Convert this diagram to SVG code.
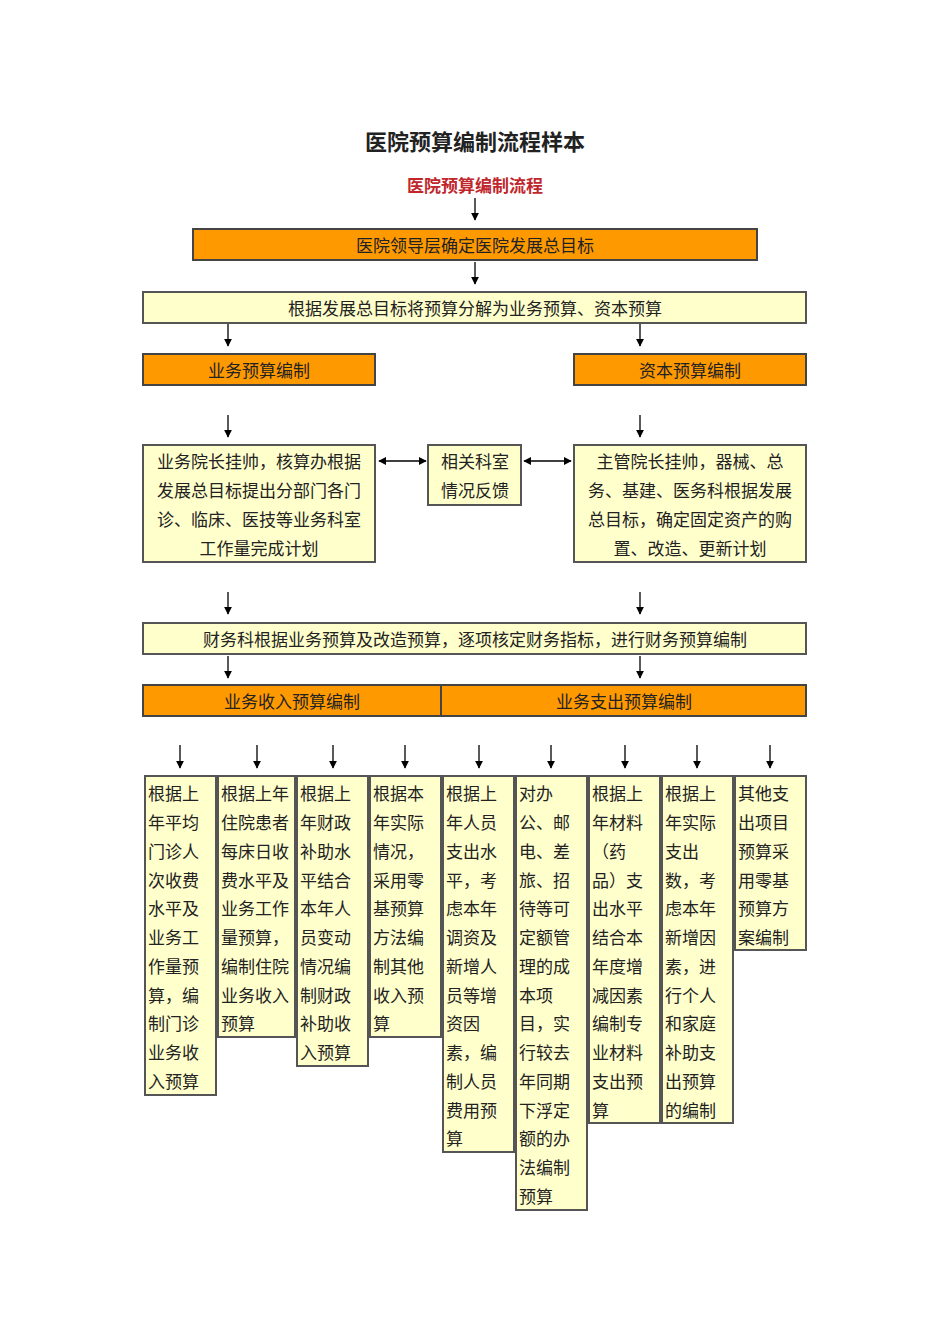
<svg xmlns="http://www.w3.org/2000/svg" width="950" height="1344" viewBox="0 0 950 1344">
<style>
text{font-family:"Noto Sans CJK SC","Liberation Serif",serif;font-size:17px;fill:#222}
.o{fill:#FF9900;stroke:#444;stroke-width:2}
.y{fill:#FFFFCC;stroke:#555;stroke-width:2}
.c{text-anchor:middle}
.a{stroke:#000;stroke-width:1.3;fill:none}
</style>
<defs><marker id="h" viewBox="0 0 10 10" refX="9" refY="5" markerWidth="6" markerHeight="6" orient="auto-start-reverse"><path d="M0,0L10,5L0,10z" fill="#000"/></marker></defs>
<rect width="950" height="1344" fill="#fff"/>
<text x="475" y="150" class="c" style="font-size:22px;font-weight:bold">医院预算编制流程样本</text>
<text x="475" y="192" class="c" style="fill:#C0272D;font-weight:bold">医院预算编制流程</text>
<g id="n1"><rect class="o" x="193" y="229" width="564" height="31"/><text x="475" y="252" class="c">医院领导层确定医院发展总目标</text></g>
<g id="n2"><rect class="y" x="143" y="292" width="663" height="31"/><text x="475" y="315" class="c">根据发展总目标将预算分解为业务预算、资本预算</text></g>
<g id="n3"><rect class="o" x="143" y="354" width="232" height="31"/><text x="259" y="377" class="c">业务预算编制</text></g>
<g id="n4"><rect class="o" x="574" y="354" width="232" height="31"/><text x="690" y="377" class="c">资本预算编制</text></g>
<g id="n5"><rect class="y" x="143" y="445" width="232" height="117"/><text class="c"><tspan x="259" y="468">业务院长挂帅，核算办根据</tspan><tspan x="259" y="497">发展总目标提出分部门各门</tspan><tspan x="259" y="526">诊、临床、医技等业务科室</tspan><tspan x="259" y="555">工作量完成计划</tspan></text></g>
<g id="n6"><rect class="y" x="428" y="445" width="93" height="60"/><text class="c"><tspan x="475" y="468">相关科室</tspan><tspan x="475" y="497">情况反馈</tspan></text></g>
<g id="n7"><rect class="y" x="574" y="445" width="232" height="117"/><text class="c"><tspan x="690" y="468">主管院长挂帅，器械、总</tspan><tspan x="690" y="497">务、基建、医务科根据发展</tspan><tspan x="690" y="526">总目标，确定固定资产的购</tspan><tspan x="690" y="555">置、改造、更新计划</tspan></text></g>
<g id="n8"><rect class="y" x="143" y="623" width="663" height="31"/><text x="475" y="646" class="c">财务科根据业务预算及改造预算，逐项核定财务指标，进行财务预算编制</text></g>
<g id="n9"><rect class="o" x="143" y="685" width="298" height="31"/><text x="292" y="708" class="c">业务收入预算编制</text></g>
<g id="n10"><rect class="o" x="441" y="685" width="365" height="31"/><text x="624" y="708" class="c">业务支出预算编制</text></g>
<g id="c1"><rect class="y" x="145" y="776" width="71" height="319"/><text><tspan x="148" y="800">根据上</tspan><tspan x="148" y="829">年平均</tspan><tspan x="148" y="858">门诊人</tspan><tspan x="148" y="887">次收费</tspan><tspan x="148" y="915">水平及</tspan><tspan x="148" y="944">业务工</tspan><tspan x="148" y="973">作量预</tspan><tspan x="148" y="1002">算，编</tspan><tspan x="148" y="1030">制门诊</tspan><tspan x="148" y="1059">业务收</tspan><tspan x="148" y="1088">入预算</tspan></text></g>
<g id="c2"><rect class="y" x="218" y="776" width="77" height="261"/><text><tspan x="221" y="800">根据上年</tspan><tspan x="221" y="829">住院患者</tspan><tspan x="221" y="858">每床日收</tspan><tspan x="221" y="887">费水平及</tspan><tspan x="221" y="915">业务工作</tspan><tspan x="221" y="944">量预算，</tspan><tspan x="221" y="973">编制住院</tspan><tspan x="221" y="1002">业务收入</tspan><tspan x="221" y="1030">预算</tspan></text></g>
<g id="c3"><rect class="y" x="297" y="776" width="71" height="290"/><text><tspan x="300" y="800">根据上</tspan><tspan x="300" y="829">年财政</tspan><tspan x="300" y="858">补助水</tspan><tspan x="300" y="887">平结合</tspan><tspan x="300" y="915">本年人</tspan><tspan x="300" y="944">员变动</tspan><tspan x="300" y="973">情况编</tspan><tspan x="300" y="1002">制财政</tspan><tspan x="300" y="1030">补助收</tspan><tspan x="300" y="1059">入预算</tspan></text></g>
<g id="c4"><rect class="y" x="370" y="776" width="71" height="261"/><text><tspan x="373" y="800">根据本</tspan><tspan x="373" y="829">年实际</tspan><tspan x="373" y="858">情况，</tspan><tspan x="373" y="887">采用零</tspan><tspan x="373" y="915">基预算</tspan><tspan x="373" y="944">方法编</tspan><tspan x="373" y="973">制其他</tspan><tspan x="373" y="1002">收入预</tspan><tspan x="373" y="1030">算</tspan></text></g>
<g id="c5"><rect class="y" x="443" y="776" width="71" height="376"/><text><tspan x="446" y="800">根据上</tspan><tspan x="446" y="829">年人员</tspan><tspan x="446" y="858">支出水</tspan><tspan x="446" y="887">平，考</tspan><tspan x="446" y="915">虑本年</tspan><tspan x="446" y="944">调资及</tspan><tspan x="446" y="973">新增人</tspan><tspan x="446" y="1002">员等增</tspan><tspan x="446" y="1030">资因</tspan><tspan x="446" y="1059">素，编</tspan><tspan x="446" y="1088">制人员</tspan><tspan x="446" y="1117">费用预</tspan><tspan x="446" y="1145">算</tspan></text></g>
<g id="c6"><rect class="y" x="516" y="776" width="71" height="434"/><text><tspan x="519" y="800">对办</tspan><tspan x="519" y="829">公、邮</tspan><tspan x="519" y="858">电、差</tspan><tspan x="519" y="887">旅、招</tspan><tspan x="519" y="915">待等可</tspan><tspan x="519" y="944">定额管</tspan><tspan x="519" y="973">理的成</tspan><tspan x="519" y="1002">本项</tspan><tspan x="519" y="1030">目，实</tspan><tspan x="519" y="1059">行较去</tspan><tspan x="519" y="1088">年同期</tspan><tspan x="519" y="1117">下浮定</tspan><tspan x="519" y="1145">额的办</tspan><tspan x="519" y="1174">法编制</tspan><tspan x="519" y="1203">预算</tspan></text></g>
<g id="c7"><rect class="y" x="589" y="776" width="71" height="347"/><text><tspan x="592" y="800">根据上</tspan><tspan x="592" y="829">年材料</tspan><tspan x="592" y="858">（药</tspan><tspan x="592" y="887">品）支</tspan><tspan x="592" y="915">出水平</tspan><tspan x="592" y="944">结合本</tspan><tspan x="592" y="973">年度增</tspan><tspan x="592" y="1002">减因素</tspan><tspan x="592" y="1030">编制专</tspan><tspan x="592" y="1059">业材料</tspan><tspan x="592" y="1088">支出预</tspan><tspan x="592" y="1117">算</tspan></text></g>
<g id="c8"><rect class="y" x="662" y="776" width="71" height="347"/><text><tspan x="665" y="800">根据上</tspan><tspan x="665" y="829">年实际</tspan><tspan x="665" y="858">支出</tspan><tspan x="665" y="887">数，考</tspan><tspan x="665" y="915">虑本年</tspan><tspan x="665" y="944">新增因</tspan><tspan x="665" y="973">素，进</tspan><tspan x="665" y="1002">行个人</tspan><tspan x="665" y="1030">和家庭</tspan><tspan x="665" y="1059">补助支</tspan><tspan x="665" y="1088">出预算</tspan><tspan x="665" y="1117">的编制</tspan></text></g>
<g id="c9"><rect class="y" x="735" y="776" width="71" height="174"/><text><tspan x="738" y="800">其他支</tspan><tspan x="738" y="829">出项目</tspan><tspan x="738" y="858">预算采</tspan><tspan x="738" y="887">用零基</tspan><tspan x="738" y="915">预算方</tspan><tspan x="738" y="944">案编制</tspan></text></g>
<g id="connectors" class="a" marker-end="url(#h)">
<path d="M475,198V220"/><path d="M475,262V284"/>
<path d="M228,324V346"/><path d="M640,324V346"/>
<path d="M228,415V437"/><path d="M640,415V437"/>
<path d="M228,592V614"/><path d="M640,592V614"/>
<path d="M228,656V678"/><path d="M640,656V678"/>
<path d="M180,745V768"/><path d="M257,745V768"/><path d="M333,745V768"/><path d="M405,745V768"/><path d="M479,745V768"/><path d="M551,745V768"/><path d="M625,745V768"/><path d="M697,745V768"/><path d="M770,745V768"/>
<path d="M379,461H426" marker-start="url(#h)"/><path d="M524,461H571" marker-start="url(#h)"/>
</g>
</svg>
